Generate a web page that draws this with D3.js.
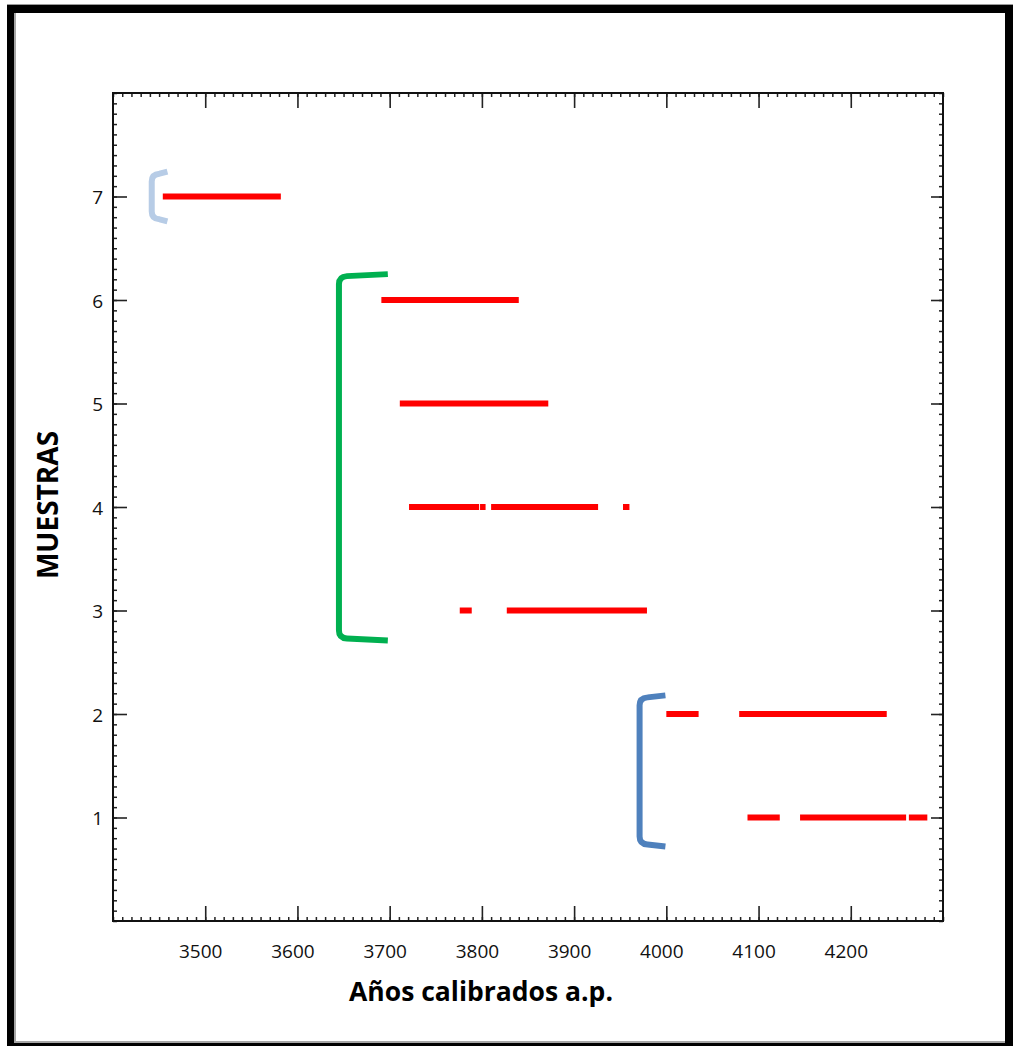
<!DOCTYPE html>
<html>
<head>
<meta charset="utf-8">
<script src="https://cdn.jsdelivr.net/npm/d3@7"></script>
<style>
  html, body { margin: 0; padding: 0; background: #fff; }
  svg { display: block; }
</style>
</head>
<body>
<script>
// ---------- DATA ----------
const sampleIds = [1, 2, 3, 4, 5, 6, 7];
// calibrated age intervals (years BP) for each sample
const sample1 = [[4088, 4123], [4145, 4260], [4263, 4283]];
const sample2 = [[4000, 4035], [4079, 4239]];
const sample3 = [[3776, 3789], [3827, 3979]];
const sample4 = [[3721, 3797], [3798, 3804], [3810, 3926], [3953, 3960]];
const sample5 = [[3711, 3872]];
const sample6 = [[3691, 3840]];
const sample7 = [[3454, 3582]];
const sampleSegments = [sample1, sample2, sample3, sample4, sample5, sample6, sample7];

// groups (brackets)
const groupNames = ["grupo A", "grupo B", "grupo C"];
const groupX = [3442, 3645, 3971];       // vertical bar position
const groupArmEnd = [3459, 3698, 3999];  // end of arms
const groupTop = [7.24, 6.25, 2.18];
const groupBottom = [6.76, 2.71, 0.72];
const groupColors = ["#b7cce6", "#00b050", "#4f81bd"];

const xDomain = [3400, 4300];
const yDomain = [0, 8];
const xTickLabels = [3500, 3600, 3700, 3800, 3900, 4000, 4100, 4200];
const yTickLabels = [1, 2, 3, 4, 5, 6, 7];
const xTitle = "Años calibrados a.p.";
const yTitle = "MUESTRAS";

// ---------- LAYOUT ----------
const W = 1013, H = 1046;
const L = 113, R = 943, T = 93, B = 921;

const svg = d3.select("body").append("svg").attr("width", W).attr("height", H);

// outer frame
const frame = svg.append("g");
frame.append("rect").attr("x", 7).attr("y", 5).attr("width", W - 7).attr("height", 8).attr("fill", "#000");
frame.append("rect").attr("x", 7).attr("y", 5).attr("width", 7).attr("height", H - 5).attr("fill", "#000");
frame.append("rect").attr("x", 1005).attr("y", 5).attr("width", 8).attr("height", H - 5).attr("fill", "#000");
frame.append("rect").attr("x", 7).attr("y", 1043).attr("width", W - 7).attr("height", 3).attr("fill", "#000");
frame.append("rect").attr("x", 14).attr("y", 13).attr("width", 2).attr("height", 1030).attr("fill", "#a6a6a6");
frame.append("rect").attr("x", 14).attr("y", 1041).attr("width", 991).attr("height", 2).attr("fill", "#a6a6a6");
frame.append("rect").attr("x", 7).attr("y", 4).attr("width", W - 7).attr("height", 1).attr("fill", "#9a9a9a");

const x = d3.scaleLinear().domain(xDomain).range([L, R]);
const y = d3.scaleLinear().domain(yDomain).range([B, T]);

const xMinor = d3.range(xDomain[0], xDomain[1] + 0.001, 10);
const yMinor = d3.range(0, 81).map(d => d / 10);

function styleAxis(g, w) {
  g.select(".domain").remove();
  g.selectAll(".tick line").attr("stroke", "#222").attr("stroke-width", w);
}

// minor ticks
svg.append("g").attr("transform", `translate(0,${B})`)
  .call(d3.axisBottom(x).tickValues(xMinor).tickSize(-4).tickFormat(""))
  .call(g => styleAxis(g, 1.5));
svg.append("g").attr("transform", `translate(0,${T})`)
  .call(d3.axisTop(x).tickValues(xMinor).tickSize(-4).tickFormat(""))
  .call(g => styleAxis(g, 1.5));
svg.append("g").attr("transform", `translate(${L},0)`)
  .call(d3.axisLeft(y).tickValues(yMinor).tickSize(-4).tickFormat(""))
  .call(g => styleAxis(g, 1.5));
svg.append("g").attr("transform", `translate(${R},0)`)
  .call(d3.axisRight(y).tickValues(yMinor).tickSize(-4).tickFormat(""))
  .call(g => styleAxis(g, 1.5));

// major ticks
const fontTicks = "'Open Sans', 'Noto Sans', sans-serif";
svg.append("g").attr("transform", `translate(0,${B})`)
  .call(d3.axisBottom(x).tickValues(xTickLabels).tickSize(-15).tickPadding(0).tickFormat(d3.format("d")))
  .call(g => {
    styleAxis(g, 1.6);
    g.selectAll(".tick text").attr("y", 37).attr("dy", 0).attr("dx", -5)
      .attr("font-family", fontTicks).attr("font-size", 19).attr("fill", "#111");
  });
svg.append("g").attr("transform", `translate(0,${T})`)
  .call(d3.axisTop(x).tickValues(xTickLabels).tickSize(-15).tickFormat(""))
  .call(g => styleAxis(g, 1.6));
svg.append("g").attr("transform", `translate(${L},0)`)
  .call(d3.axisLeft(y).tickValues(yTickLabels).tickSize(-14).tickPadding(0).tickFormat(d3.format("d")))
  .call(g => {
    styleAxis(g, 1.6);
    g.selectAll(".tick text").attr("x", -10).attr("dy", 7)
      .attr("font-family", fontTicks).attr("font-size", 19).attr("fill", "#111");
  });
svg.append("g").attr("transform", `translate(${R},0)`)
  .call(d3.axisRight(y).tickValues(yTickLabels).tickSize(-12).tickFormat(""))
  .call(g => styleAxis(g, 1.6));

// plot frame
svg.append("rect").attr("x", L).attr("y", T).attr("width", R - L).attr("height", B - T)
  .attr("fill", "none").attr("stroke", "#111").attr("stroke-width", 2);

// brackets
const brackets = groupNames.map((n, i) => ({
  name: n, xv: groupX[i], xe: groupArmEnd[i], top: groupTop[i], bot: groupBottom[i], color: groupColors[i]
}));
svg.append("g").selectAll("path").data(brackets).join("path")
  .attr("d", d => {
    const xv = x(d.xv), xe = x(d.xe), yt = y(d.top), yb = y(d.bot);
    const r = Math.min(8, (xe - xv) / 2);
    return `M${xe},${yt} L${xv + r},${yt + 2} Q${xv},${yt + 2.5} ${xv},${yt + r + 2}` +
           ` L${xv},${yb - r - 2} Q${xv},${yb - 2.5} ${xv + r},${yb - 2} L${xe},${yb}`;
  })
  .attr("fill", "none").attr("stroke", d => d.color).attr("stroke-width", 6)
  .attr("stroke-linejoin", "round");

// red segments
const segs = [];
sampleIds.forEach((id, i) => sampleSegments[i].forEach(s => segs.push({ id, a: s[0], b: s[1] })));
svg.append("g").selectAll("line").data(segs).join("line")
  .attr("x1", d => x(d.a)).attr("x2", d => x(d.b))
  .attr("y1", d => y(d.id)).attr("y2", d => y(d.id))
  .attr("stroke", "#ff0000").attr("stroke-width", 6);

// titles
const fontTitle = "'Open Sans', 'Noto Sans', sans-serif";
svg.append("text").attr("x", 481).attr("y", 1001).attr("text-anchor", "middle")
  .attr("font-family", fontTitle).attr("font-weight", "bold").attr("font-size", 26.5)
  .attr("fill", "#000").text(xTitle);
svg.append("text").attr("transform", "translate(58,505) rotate(-90)").attr("text-anchor", "middle")
  .attr("font-family", fontTitle).attr("font-weight", "bold").attr("font-size", 28)
  .attr("fill", "#000").text(yTitle);
</script>
</body>
</html>
